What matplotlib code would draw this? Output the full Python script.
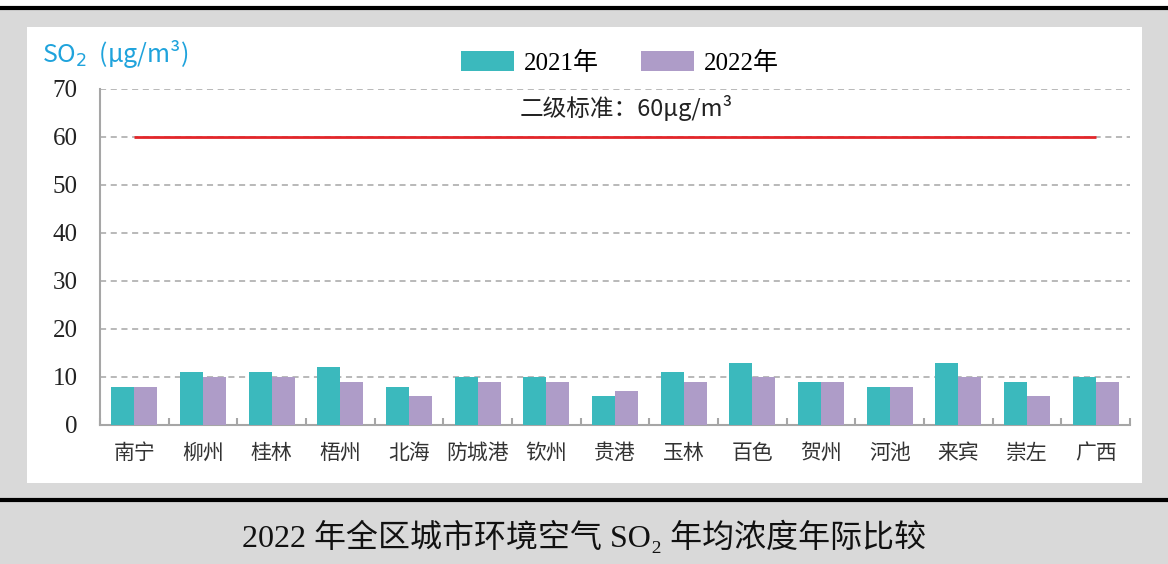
import matplotlib
import matplotlib.pyplot as plt
import numpy as np
from matplotlib.patches import Rectangle
matplotlib.use('Agg')

# 数据
cities = ["南宁", "柳州", "桂林", "梧州", "北海", "防城港", "钦州", "贵港",
          "玉林", "百色", "贺州", "河池", "来宾", "崇左", "广西"]
so2_2021 = [8, 11, 11, 12, 8, 10, 10, 6, 11, 13, 9, 8, 13, 9, 10]
so2_2022 = [8, 10, 10, 9, 6, 9, 9, 7, 9, 10, 9, 8, 10, 6, 9]
standard = 60
yticks = [0, 10, 20, 30, 40, 50, 60, 70]

serif = ['Liberation Serif', 'Noto Sans CJK SC']
sans = ['Noto Sans CJK SC', 'DejaVu Sans']
plt.rcParams['font.family'] = sans

fig = plt.figure(figsize=(11.68, 5.64), dpi=100, facecolor='#d9d9d9')

# 背景框
fig.patches.append(Rectangle((0, 0.988), 1, 0.012, transform=fig.transFigure,
                             facecolor='white', edgecolor='none', zorder=-2))
fig.patches.append(Rectangle((0.0231, 0.1436), 0.9546, 0.8085, transform=fig.transFigure,
                             facecolor='white', edgecolor='none', zorder=-2))
fig.add_artist(plt.Line2D([0, 1], [0.9858, 0.9858], transform=fig.transFigure,
                          color='black', lw=3, zorder=-1))
fig.add_artist(plt.Line2D([0, 1], [0.1135, 0.1135], transform=fig.transFigure,
                          color='black', lw=3, zorder=-1))

ax = fig.add_axes([0.0856, 0.2465, 0.882, 0.5957])
ax.set_zorder(2)
ax.set_facecolor('none')

x = np.arange(len(cities))
w = 0.335
b1 = ax.bar(x - w / 2, so2_2021, w, color='#3bb9bd', label='2021年', zorder=3)
b2 = ax.bar(x + w / 2, so2_2022, w, color='#ae9cc8', label='2022年', zorder=3)

ax.hlines(standard, x[0], x[-1], color='#e3262a', lw=2, zorder=4)
ax.text(7.17, 66, "二级标准：60μg/m³", ha='center', va='center', fontsize=17,
        color='#222222', family=sans)

ax.set_xlim(-0.5, len(cities) - 0.5)
ax.set_ylim(0, 70)
ax.set_yticks(yticks)
ax.set_yticklabels([str(v) for v in yticks], family=serif, fontsize=18, color='#222222')
ax.yaxis.grid(True, linestyle=(0, (4, 3)), color='#a6a6a6', lw=1.1, zorder=0)
ax.tick_params(axis='y', length=0, pad=16)

ax.set_xticks(x)
ax.set_xticklabels(cities, fontsize=15, color='#333333')
ax.tick_params(axis='x', length=0, pad=12)
ax.set_xticks(np.arange(-0.5, len(cities), 1), minor=True)
ax.tick_params(axis='x', which='minor', length=5, direction='in', color='#a6a6a6', width=1.5)

for s in ['top', 'right']:
    ax.spines[s].set_visible(False)
ax.spines['left'].set_color('#a6a6a6')
ax.spines['left'].set_linewidth(1.5)
ax.spines['bottom'].set_color('#a6a6a6')
ax.spines['bottom'].set_linewidth(1.5)

fig.text(0.036, 0.905, "SO$_2$  (μg/m³)", fontsize=18, color='#1fa3dc', family=sans,
         ha='left', va='center')

leg = fig.legend(handles=[b1, b2], loc='center', bbox_to_anchor=(0.531, 0.889), ncol=2,
                 frameon=False, handlelength=2.1, handleheight=0.9, handletextpad=0.4,
                 columnspacing=1.7, prop={'family': serif, 'size': 18})

fig.text(0.5, 0.047, "2022 年全区城市环境空气 SO₂ 年均浓度年际比较", ha='center', va='center',
         fontsize=23, family=serif, color='#111111')

fig.savefig('out.png', dpi=100, facecolor=fig.get_facecolor())
